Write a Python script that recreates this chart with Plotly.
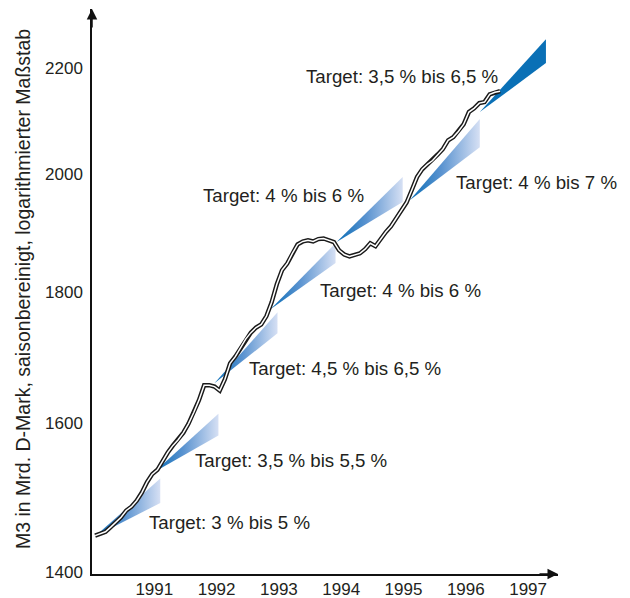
import plotly.graph_objects as go
import math

# ---------------- data ----------------
# Monthly M3 (bn DM, seasonally adjusted)
m3_start = 1990.05          # position of first monthly observation (decimal year)
m3_values = [1446, 1449, 1451, 1457, 1463, 1470, 1479, 1484, 1492, 1503,
             1517, 1528, 1534, 1547, 1558, 1568, 1576, 1586, 1599, 1615,
             1633, 1655, 1655, 1653, 1647, 1664, 1688, 1698, 1711, 1725,
             1735, 1743, 1748, 1761, 1783, 1812, 1835, 1846, 1863, 1878,
             1883, 1885, 1883, 1887, 1888, 1885, 1882, 1868, 1861, 1858,
             1860, 1863, 1870, 1880, 1875, 1888, 1899, 1909, 1923, 1937,
             1950, 1972, 1995, 2009, 2018, 2025, 2036, 2046, 2062, 2068,
             2079, 2092, 2115, 2122, 2132, 2134, 2149, 2153, 2155]

# Target corridors
target_labels = ["3 % bis 5 %", "3,5 % bis 5,5 %", "4,5 % bis 6,5 %", "4 % bis 6 %",
                 "4 % bis 6 %", "4 % bis 7 %", "3,5 % bis 6,5 %"]
corr_t0 = [1990.05, 1991.00, 1991.965, 1992.865, 1993.926, 1995.10, 1996.225]
corr_t1 = [1991.096, 1992.029, 1992.978, 1993.91, 1994.987, 1996.225, 1997.286]
corr_base = [1445, 1531, 1658, 1772, 1882, 1954, 2115]
corr_end_lo = [1489, 1582, 1734, 1847, 1951, 2049, 2210]
corr_end_hi = [1522, 1613, 1767, 1880, 1995, 2102, 2258]

year_ticks = [1991, 1992, 1993, 1994, 1995, 1996, 1997]
y_ticks = [1400, 1600, 1800, 2000, 2200]

# ---------------- layout geometry ----------------
# the page body adds an 8px offset; the figure is sized to compensate
OFF = 8
W, H = 630 - OFF, 598 - OFF
ML, MR, MT, MB = 92 - OFF, 72, 9 - OFF, 24
XR = [1990.0, 1997.48]
YR = [math.log10(1397), math.log10(2320)]
PW, PH = W - ML - MR, H - MT - MB

# helpers: screen pixel (in the 630x598 picture) -> data coordinate
def px_x(px):
    return XR[0] + (px - OFF - ML) / PW * (XR[1] - XR[0])

def px_logy(py):
    return YR[0] + (H - MB - (py - OFF)) / PH * (YR[1] - YR[0])

FONT = "Liberation Sans, Arial, Helvetica, sans-serif"
TXT = "#231f20"

fig = go.Figure()

# corridors
for i in range(len(corr_t0)):
    xs = [corr_t0[i], corr_t1[i], corr_t1[i], corr_t0[i]]
    ys = [corr_base[i], corr_end_hi[i], corr_end_lo[i], corr_base[i]]
    if i < len(corr_t0) - 1:
        fig.add_trace(go.Scatter(
            x=xs, y=ys, mode="lines", fill="toself", line=dict(width=0),
            fillgradient=dict(type="horizontal",
                              colorscale=[[0, "#0a6db6"], [0.45, "#5a93d0"], [1, "#d6e0f4"]]),
            hoverinfo="skip", showlegend=False))
    else:
        fig.add_trace(go.Scatter(
            x=xs, y=ys, mode="lines", fill="toself", line=dict(width=0),
            fillcolor="#0a70b6", hoverinfo="skip", showlegend=False))

# M3 double line
m3_x = [m3_start + i / 12 for i in range(len(m3_values))]
fig.add_trace(go.Scatter(x=m3_x, y=m3_values, mode="lines",
                         line=dict(color="#1a1a1a", width=4.4), hoverinfo="skip",
                         showlegend=False))
fig.add_trace(go.Scatter(x=m3_x, y=m3_values, mode="lines",
                         line=dict(color="white", width=1.5), hoverinfo="skip",
                         showlegend=False))

# target labels (left edge px, centre y px in the picture)
label_pos = [(147, 522), (193, 460), (247, 368), (318, 290),
             (201, 195), (454, 182), (304, 76)]
for lab, (lx, ly) in zip(target_labels, label_pos):
    fig.add_annotation(x=px_x(lx), y=px_logy(ly), xref="x", yref="y",
                       text="Target: " + lab, showarrow=False,
                       xanchor="left", yanchor="middle",
                       font=dict(family=FONT, size=18.7, color=TXT))

# y-axis title
fig.add_annotation(xref="paper", yref="paper", x=0, y=(H - MB - (289 - OFF)) / PH,
                   xshift=-69, text="M3 in Mrd. D-Mark, saisonbereinigt, logarithmierter Maßstab",
                   textangle=-90, showarrow=False, xanchor="center", yanchor="middle",
                   font=dict(family=FONT, size=19.5, color=TXT))

# axis arrows
fig.add_annotation(xref="paper", yref="paper", x=1, y=0, ax=-20, ay=0, text="",
                   showarrow=True, arrowhead=2, arrowsize=1.4, arrowwidth=1.5,
                   arrowcolor="#111")
fig.add_annotation(xref="paper", yref="paper", x=0, y=1, ax=0, ay=20, text="",
                   showarrow=True, arrowhead=2, arrowsize=1.4, arrowwidth=1.5,
                   arrowcolor="#111")

fig.update_layout(
    width=W, height=H, margin=dict(l=ML, r=MR, t=MT, b=MB, autoexpand=False),
    paper_bgcolor="white", plot_bgcolor="white",
    xaxis=dict(range=XR, showgrid=False, zeroline=False, showline=True,
               linecolor="#111", linewidth=1.5, tickvals=year_ticks,
               ticktext=[str(y) for y in year_ticks], ticks="",
               ticklabelstandoff=-1, automargin=False,
               tickfont=dict(family=FONT, size=17, color=TXT)),
    yaxis=dict(type="log", range=YR, showgrid=False, zeroline=False, showline=True,
               linecolor="#111", linewidth=1.5, tickvals=y_ticks,
               ticktext=[str(v) for v in y_ticks], ticks="",
               ticklabelstandoff=4, automargin=False,
               tickfont=dict(family=FONT, size=17, color=TXT)),
    showlegend=False,
)

fig.write_html("out.html")
